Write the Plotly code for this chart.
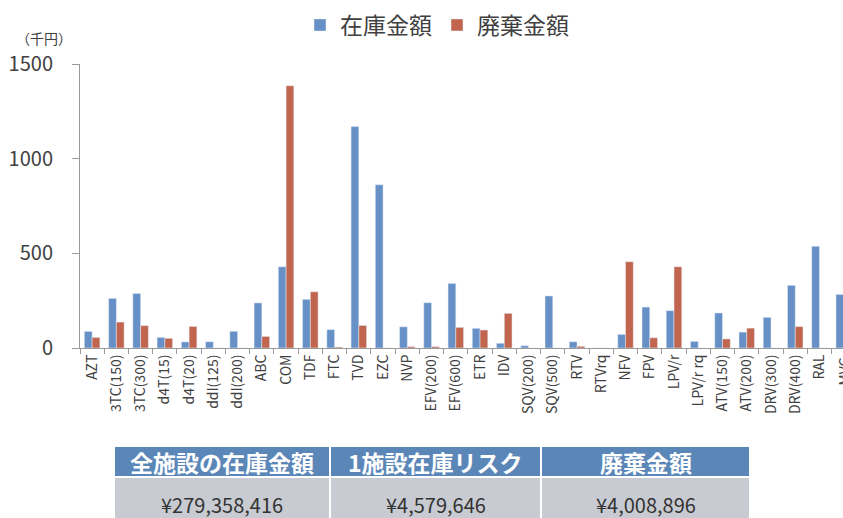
import plotly.graph_objects as go

# 薬剤別の在庫金額・廃棄金額（千円）
drugs = ["AZT", "3TC(150)", "3TC(300)", "d4T(15)", "d4T(20)", "ddI(125)", "ddI(200)",
         "ABC", "COM", "TDF", "FTC", "TVD", "EZC", "NVP", "EFV(200)", "EFV(600)",
         "ETR", "IDV", "SQV(200)", "SQV(500)", "RTV", "RTVrq", "NFV", "FPV", "LPV/r",
         "LPV/r rq", "ATV(150)", "ATV(200)", "DRV(300)", "DRV(400)", "RAL", "MVC"]
stock = [88, 262, 288, 56, 32, 33, 88, 238, 429, 257, 97, 1170, 862, 112, 239, 341,
         104, 25, 12, 275, 33, 0, 72, 216, 197, 35, 185, 84, 162, 331, 537, 283]
waste = [56, 137, 118, 51, 114, 0, 0, 61, 1385, 297, 5, 119, 0, 7, 7, 109,
         95, 183, 0, 0, 9, 0, 456, 54, 429, 0, 48, 105, 0, 113, 0, 0]

# 集計表
table_headers = ["全施設の在庫金額", "1施設在庫リスク", "廃棄金額"]
table_values = ["¥279,358,416", "¥4,579,646", "¥4,008,896"]

BLUE = "#6690c6"
RED = "#c2654f"
TEXT = "#404040"
AXIS = "#9a9a9a"
FONT = "Noto Sans CJK JP"

W, H = 843, 518
ML, MR, MT, MB = 80, 0, 64, 170
PW, PH = W - ML - MR, H - MT - MB
X_RANGE = [-0.5, 30.97]


def px_x(px):
    return (px - ML) / PW


def px_y(py):
    return (H - MB - py) / PH


fig = go.Figure()
fig.add_trace(go.Bar(x=drugs, y=stock, name="在庫金額", marker_color=BLUE))
fig.add_trace(go.Bar(x=drugs, y=waste, name="廃棄金額", marker_color=RED))

# 右端で切れる最後の薬剤名（軸範囲外なので紙面座標で配置）
last_idx = len(drugs) - 1
fig.add_annotation(x=(last_idx - X_RANGE[0]) / (X_RANGE[1] - X_RANGE[0]), xref="paper",
                   y=px_y(357), yref="paper",
                   text=drugs[-1], textangle=-90, showarrow=False,
                   xanchor="center", yanchor="top", borderpad=0,
                   font=dict(family=FONT, size=14, color=TEXT))

# 集計表（見出し行と値の行）
col_edges = [115, 331, 542, 751]
for i, (head, val) in enumerate(zip(table_headers, table_values)):
    x0, x1 = col_edges[i], col_edges[i + 1] - 2
    fig.add_shape(type="rect", xref="paper", yref="paper",
                  x0=px_x(x0), x1=px_x(x1), y0=px_y(447), y1=px_y(476),
                  fillcolor="#5b87b8", line_width=0, layer="above")
    fig.add_shape(type="rect", xref="paper", yref="paper",
                  x0=px_x(x0), x1=px_x(x1), y0=px_y(478), y1=px_y(530),
                  fillcolor="#c8cbd1", line_width=0, layer="above")
    fig.add_annotation(x=px_x((x0 + x1) / 2), y=px_y(462), xref="paper", yref="paper",
                       text="<b>" + head + "</b>", showarrow=False,
                       xanchor="center", yanchor="middle", borderpad=0,
                       font=dict(family=FONT, size=23, color="white"))
    fig.add_annotation(x=px_x((x0 + x1) / 2), y=px_y(504), xref="paper", yref="paper",
                       text=val, showarrow=False, xanchor="center", yanchor="middle",
                       borderpad=0, font=dict(family=FONT, size=20, color="#333333"))

# 単位
fig.add_annotation(x=px_x(44), y=px_y(38), xref="paper", yref="paper",
                   text="（千円）", showarrow=False, xanchor="center", yanchor="middle",
                   font=dict(family=FONT, size=14, color=TEXT))

fig.update_layout(
    width=W, height=H,
    margin=dict(l=ML, r=MR, t=MT, b=MB, pad=0),
    paper_bgcolor="white", plot_bgcolor="white",
    barmode="group", bargap=0.36, bargroupgap=0,
    font=dict(family=FONT, color=TEXT),
    showlegend=True,
    legend=dict(orientation="h", x=px_x(437), y=px_y(25), xanchor="center",
                yanchor="middle", font=dict(family=FONT, size=23, color=TEXT),
                itemwidth=30, bgcolor="rgba(0,0,0,0)"),
    xaxis=dict(range=X_RANGE, tickangle=-90, showline=True, linecolor=AXIS,
               linewidth=1, ticks="outside", tickson="boundaries", ticklen=5,
               tickcolor=AXIS, tickfont=dict(family=FONT, size=14, color=TEXT),
               showgrid=False, zeroline=False, fixedrange=True),
    yaxis=dict(range=[0, 1500], tickvals=[0, 500, 1000, 1500], showline=True,
               linecolor=AXIS, linewidth=1, ticks="outside", ticklen=7,
               tickcolor=AXIS, ticklabelstandoff=15,
               tickfont=dict(family=FONT, size=20, color=TEXT),
               showgrid=False, zeroline=False, fixedrange=True),
)

fig.write_html("out.html")
